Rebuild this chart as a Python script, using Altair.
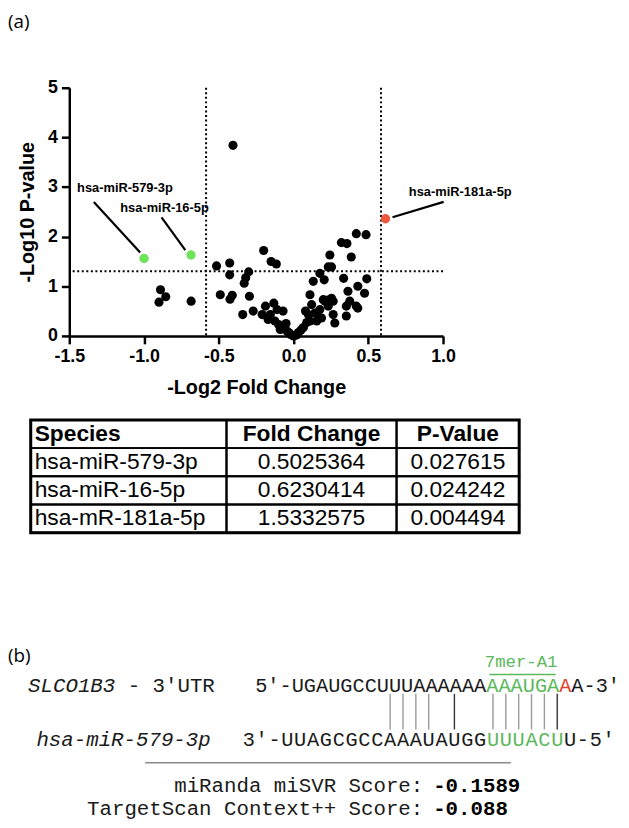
import altair as alt
import pandas as pd

# ---------------- (a) volcano plot data ----------------
fc_vals = [-0.405, -0.89, -0.90, -0.855, -0.685,
           -0.515, -0.427, -0.427, -0.49, -0.425, -0.41,
           -0.33, -0.32, -0.30, -0.34, -0.295, -0.27,
           -0.20, -0.15, -0.115,
           -0.21, -0.17, -0.188, -0.132, -0.11, -0.155, -0.07,
           -0.10, -0.089, -0.066, -0.044, -0.033, -0.02, 0.0, -0.05, -0.125,
           0.033, 0.02, 0.066, 0.088, 0.05, 0.11,
           0.11, 0.121, 0.099, 0.143, 0.176, 0.199, 0.232, 0.254, 0.265, 0.276, 0.187, 0.155, 0.08,
           0.132, 0.176, 0.232, 0.254, 0.243, 0.205, 0.21, 0.23, 0.265,
           0.32, 0.357, 0.386, 0.335, 0.364, 0.353, 0.353, 0.376, 0.42,
           0.42, 0.485, 0.49, 0.43, 0.475, 0.43]
nlp_vals = [3.84, 0.93, 0.68, 0.79, 0.70,
            1.41, 1.47, 1.23, 0.83, 0.74, 0.82,
            1.06, 1.17, 1.29, 0.43, 0.80, 0.50,
            1.72, 1.50, 1.45,
            0.43, 0.33, 0.60, 0.66, 0.53, 0.43, 0.50,
            0.23, 0.13, 0.17, 0.10, 0.07, 0.03, 0.0, 0.25, 0.30,
            0.07, 0.02, 0.17, 0.27, 0.12, 0.30,
            0.83, 0.63, 0.43, 0.46, 0.53, 0.73, 0.60, 0.76, 0.43, 0.26, 0.36, 0.30, 0.50,
            1.10, 1.26, 1.39, 1.39, 1.63, 1.13, 0.70, 0.72, 0.70,
            1.88, 1.86, 1.59, 1.16, 0.90, 0.60, 0.40, 0.70, 0.60,
            2.06, 2.04, 1.15, 1.00, 0.86, 0.56]

hl_names = ["hsa-miR-579-3p", "hsa-miR-16-5p", "hsa-miR-181a-5p"]
hl_fc = [-1.0, -0.686, 0.615]
hl_nlp = [1.56, 1.63, 2.36]
hl_colors = ["#6ee25a", "#6ee25a", "#ef5a3f"]
label_fc = [-1.128, -0.863, 1.115]
label_nlp = [2.97, 2.58, 2.90]
leader_fc1 = [-1.336, -0.883, 0.662]
leader_nlp1 = [2.70, 2.39, 2.39]
leader_fc2 = [-1.026, -0.724, 1.004]
leader_nlp2 = [1.68, 1.73, 2.70]

fc_cut = [-0.585, 0.585]
p_cut = [1.301]

x_ticks = [-1.5, -1.0, -0.5, 0.0, 0.5, 1.0]
y_ticks = [0, 1, 2, 3, 4, 5]

# ---------------- table data ----------------
tbl_header = ["Species", "Fold Change", "P-Value"]
tbl_species = ["hsa-miR-579-3p", "hsa-miR-16-5p", "hsa-mR-181a-5p"]
tbl_fold = ["0.5025364", "0.6230414", "1.5332575"]
tbl_p = ["0.027615", "0.024242", "0.004494"]

# ---------------- (b) sequence data ----------------
utr_name_it = "SLCO1B3"
utr_name_rest = "- 3′UTR"
mir_name = "hsa-miR-579-3p"
utr_seq = "UGAUGCCUUUAAAAAAAAAUGAAA"
mir_seq = "UUAGCGCCAAAUAUGGUUUACUU"
utr_green = [16, 17, 18, 19, 20, 21]
utr_red = [22]
mir_green = [16, 17, 18, 19, 20, 21]
pair_idx = [8, 9, 10, 11, 13, 16, 17, 18, 19, 20, 21]
pair_dark = [13, 21]
site_label = "7mer-A1"
score_labels = ["miRanda miSVR Score:", "TargetScan Context++ Score:"]
score_values = ["-0.1589", "-0.088"]

# ---------------- styles / layout ----------------
SANS = "Liberation Sans"
MONO = "Liberation Mono"
PANEL_FONT = "Open Sans"
BLACK = "#1a1a1a"
GREEN = "#5cb85c"
RED = "#e8402f"

W_A, H_A = 378, 251
PAGE_LEFT = 70          # page x of plot-area left edge
A_TOP = 84

axis_common = dict(domainColor="black", domainWidth=2.5, tickColor="black", tickWidth=2.5,
                   tickSize=8, labelFont=SANS, labelFontWeight="bold", labelFontSize=18,
                   labelColor="black", titleFont=SANS, titleFontWeight="bold",
                   titleFontSize=20, titleColor="black", grid=False, labelFlush=False)
x_axis = alt.Axis(title="-Log2 Fold Change", values=x_ticks, labelPadding=4, titlePadding=12,
                  labelExpr="datum.value < 0 ? '-' + format(-datum.value, '.1f') : format(datum.value, '.1f')",
                  **axis_common)
y_axis = alt.Axis(title="-Log10 P-value", values=y_ticks, format="d", labelPadding=4,
                  titlePadding=10, **axis_common)
xs = alt.Scale(domain=[-1.5, 1.0], nice=False, zero=False)
ys = alt.Scale(domain=[0, 5], nice=False, zero=False)


def AX(f):
    return alt.X(f, type="quantitative", scale=xs, axis=x_axis)


def AY(f):
    return alt.Y(f, type="quantitative", scale=ys, axis=y_axis)


pts = pd.DataFrame({"x": fc_vals, "y": nlp_vals})
hl = pd.DataFrame({"x": hl_fc, "y": hl_nlp, "c": hl_colors, "name": hl_names,
                   "lx": label_fc, "ly": label_nlp,
                   "x1": leader_fc1, "y1": leader_nlp1, "x2": leader_fc2, "y2": leader_nlp2})

vrules = alt.Chart(pd.DataFrame({"x": fc_cut})).mark_rule(
    color="black", strokeWidth=2, strokeDash=[2, 2.6]).encode(x=AX("x"))
hrules = alt.Chart(pd.DataFrame({"y": p_cut})).mark_rule(
    color="black", strokeWidth=2, strokeDash=[2, 2.6]).encode(y=AY("y"))
dots = alt.Chart(pts).mark_circle(size=85, opacity=1, color="black").encode(x=AX("x"), y=AY("y"))
leaders = alt.Chart(hl).mark_rule(color="black", strokeWidth=2.2).encode(
    x=AX("x1"), y=AY("y1"), x2="x2", y2="y2")
hdots = alt.Chart(hl).mark_circle(size=90, opacity=1).encode(
    x=AX("x"), y=AY("y"), color=alt.Color("c:N", scale=None))
hlabels = alt.Chart(hl).mark_text(font=SANS, fontWeight="bold", fontSize=13, color="black").encode(
    x=AX("lx"), y=AY("ly"), text="name:N")
tag_a = alt.Chart(pd.DataFrame({"t": ["(a)"]})).mark_text(
    font=PANEL_FONT, fontSize=19, align="left", baseline="middle", color="black").encode(
    x=alt.value(8 - PAGE_LEFT), y=alt.value(17.5 - A_TOP), text="t:N")

panel_a = alt.layer(vrules, hrules, leaders, dots, hdots, hlabels, tag_a).properties(
    width=W_A, height=H_A)

# ---------------- (b) table panel ----------------
B_TOP, B_H, B_W = 335, 199, 457
TABLE_LEFT, TABLE_TOP = 31, 420
COL_W = [198, 172, 124]
ROW_H = 28.5
bx = alt.Scale(domain=[PAGE_LEFT, PAGE_LEFT + B_W], nice=False, zero=False)
by = alt.Scale(domain=[B_TOP, B_TOP + B_H], nice=False, zero=False, reverse=True)
col_edges = [TABLE_LEFT]
for w in COL_W:
    col_edges.append(col_edges[-1] + w)
n_rows = 1 + len(tbl_species)
row_edges = [TABLE_TOP + ROW_H * r for r in range(n_rows + 1)]

cells = pd.DataFrame([dict(x1=col_edges[c], x2=col_edges[c + 1], y1=row_edges[r], y2=row_edges[r + 1])
                      for r in range(n_rows) for c in range(3)])
outer = pd.DataFrame([dict(x1=col_edges[0], x2=col_edges[-1], y1=row_edges[0], y2=row_edges[-1])])


def BX(f):
    return alt.X(f, type="quantitative", scale=bx, axis=None)


def BY(f):
    return alt.Y(f, type="quantitative", scale=by, axis=None)


cell_marks = alt.Chart(cells).mark_rect(fillOpacity=0, stroke="black", strokeWidth=2).encode(
    x=BX("x1"), x2="x2", y=BY("y1"), y2="y2")
outer_mark = alt.Chart(outer).mark_rect(fillOpacity=0, stroke="black", strokeWidth=3).encode(
    x=BX("x1"), x2="x2", y=BY("y1"), y2="y2")

row_mid = [(row_edges[r] + row_edges[r + 1]) / 2 for r in range(n_rows)]
col_mid = [(col_edges[c] + col_edges[c + 1]) / 2 for c in range(3)]
head_df = pd.DataFrame({"t": tbl_header, "x": [col_edges[0] + 4, col_mid[1], col_mid[2]],
                        "y": [row_mid[0]] * 3, "al": ["left", "center", "center"]})
left_df = pd.DataFrame({"t": tbl_species, "x": [col_edges[0] + 4] * 3, "y": row_mid[1:]})
cent_df = pd.DataFrame({"t": tbl_fold + tbl_p,
                        "x": [col_mid[1]] * 3 + [col_mid[2]] * 3,
                        "y": row_mid[1:] * 2})

head_left = alt.Chart(head_df[head_df.al == "left"]).mark_text(
    font=SANS, fontWeight="bold", fontSize=23, align="left", baseline="middle", color="black").encode(
    x=BX("x"), y=BY("y"), text="t:N")
head_cent = alt.Chart(head_df[head_df.al == "center"]).mark_text(
    font=SANS, fontWeight="bold", fontSize=23, align="center", baseline="middle", color="black").encode(
    x=BX("x"), y=BY("y"), text="t:N")
body_left = alt.Chart(left_df).mark_text(
    font=SANS, fontSize=23, align="left", baseline="middle", color="black").encode(
    x=BX("x"), y=BY("y"), text="t:N")
body_cent = alt.Chart(cent_df).mark_text(
    font=SANS, fontSize=23, align="center", baseline="middle", color="black").encode(
    x=BX("x"), y=BY("y"), text="t:N")

panel_b = alt.layer(cell_marks, outer_mark, head_left, head_cent, body_left, body_cent).properties(
    width=B_W, height=B_H)

# ---------------- (b) sequence panel ----------------
C_TOP, C_H, C_W = 534, 290, 557
cxs = alt.Scale(domain=[PAGE_LEFT, PAGE_LEFT + C_W], nice=False, zero=False)
cys = alt.Scale(domain=[C_TOP, C_TOP + C_H], nice=False, zero=False, reverse=True)


def CX(f):
    return alt.X(f, type="quantitative", scale=cxs, axis=None)


def CY(f):
    return alt.Y(f, type="quantitative", scale=cys, axis=None)


UTR_X0, UTR_STEP, UTR_Y = 258, 12.3, 689
MIR_X0, MIR_STEP, MIR_Y = 245, 13.0, 744

chars = []
for i, ch in enumerate("5′-" + utr_seq + "-3′"):
    k = i - 3
    col = GREEN if k in utr_green else (RED if k in utr_red else BLACK)
    chars.append(dict(ch=ch, x=UTR_X0 + UTR_STEP * (i + 0.5), y=UTR_Y, c=col))
for i, ch in enumerate("3′-" + mir_seq + "-5′"):
    k = i - 3
    col = GREEN if k in mir_green else BLACK
    chars.append(dict(ch=ch, x=MIR_X0 + MIR_STEP * (i + 0.5), y=MIR_Y, c=col))
chars = pd.DataFrame(chars)

pairs = pd.DataFrame([dict(x=MIR_X0 + MIR_STEP * (k + 3.5), y1=697, y2=733,
                           c="#333333" if k in pair_dark else "#9a9a9a") for k in pair_idx])

seq_text = alt.Chart(chars).mark_text(font=MONO, fontSize=20.5, align="center", baseline="middle").encode(
    x=CX("x"), y=CY("y"), text="ch:N", color=alt.Color("c:N", scale=None))
pair_rules = alt.Chart(pairs).mark_rule(strokeWidth=1.4).encode(
    x=CX("x"), y=CY("y1"), y2="y2", color=alt.Color("c:N", scale=None))

names_it = pd.DataFrame({"t": [utr_name_it, mir_name], "x": [28.3, 36.7], "y": [UTR_Y, MIR_Y]})
names_txt = alt.Chart(names_it).mark_text(font=MONO, fontSize=21, fontStyle="italic", align="left",
                                          baseline="middle", color=BLACK).encode(
    x=CX("x"), y=CY("y"), text="t:N")
utr_rest = alt.Chart(pd.DataFrame({"t": [utr_name_rest], "x": [129], "y": [UTR_Y]})).mark_text(
    font=MONO, fontSize=21, align="left", baseline="middle", color=BLACK).encode(
    x=CX("x"), y=CY("y"), text="t:N")

site_txt = alt.Chart(pd.DataFrame({"t": [site_label], "x": [527], "y": [665]})).mark_text(
    font=MONO, fontSize=17.5, align="center", baseline="middle", color=GREEN).encode(
    x=CX("x"), y=CY("y"), text="t:N")
site_line = alt.Chart(pd.DataFrame({"x1": [495], "x2": [562], "y": [677.5]})).mark_rule(
    color=GREEN, strokeWidth=1.6).encode(x=CX("x1"), x2="x2", y=CY("y"))

hr = alt.Chart(pd.DataFrame({"x1": [146.7], "x2": [516.7], "y": [766.7]})).mark_rule(
    color="#8a8a8a", strokeWidth=1.5).encode(x=CX("x1"), x2="x2", y=CY("y"))

score_df = pd.DataFrame({"lab": score_labels, "val": score_values, "xl": [428, 428],
                         "xv": [438, 438], "y": [790, 814]})
score_lab = alt.Chart(score_df).mark_text(font=MONO, fontSize=21, align="right", baseline="middle",
                                          color=BLACK).encode(x=CX("xl"), y=CY("y"), text="lab:N")
score_val = alt.Chart(score_df).mark_text(font=MONO, fontSize=21, fontWeight="bold", align="left",
                                          baseline="middle", color="black").encode(
    x=CX("xv"), y=CY("y"), text="val:N")

tag_b = alt.Chart(pd.DataFrame({"t": ["(b)"], "x": [8], "y": [659]})).mark_text(
    font=PANEL_FONT, fontSize=19, align="left", baseline="middle", color="black").encode(
    x=CX("x"), y=CY("y"), text="t:N")

panel_c = alt.layer(tag_b, site_txt, site_line, pair_rules, seq_text, names_txt, utr_rest, hr,
                    score_lab, score_val).properties(width=C_W, height=C_H)

chart = alt.vconcat(panel_a, panel_b, panel_c, spacing=0, bounds="flush").properties(
    padding={"left": 0, "top": 0, "right": 0, "bottom": 0}, background="white"
).configure_view(stroke=None)

chart.save("out.html", embed_options={"renderer": "svg", "actions": False})
